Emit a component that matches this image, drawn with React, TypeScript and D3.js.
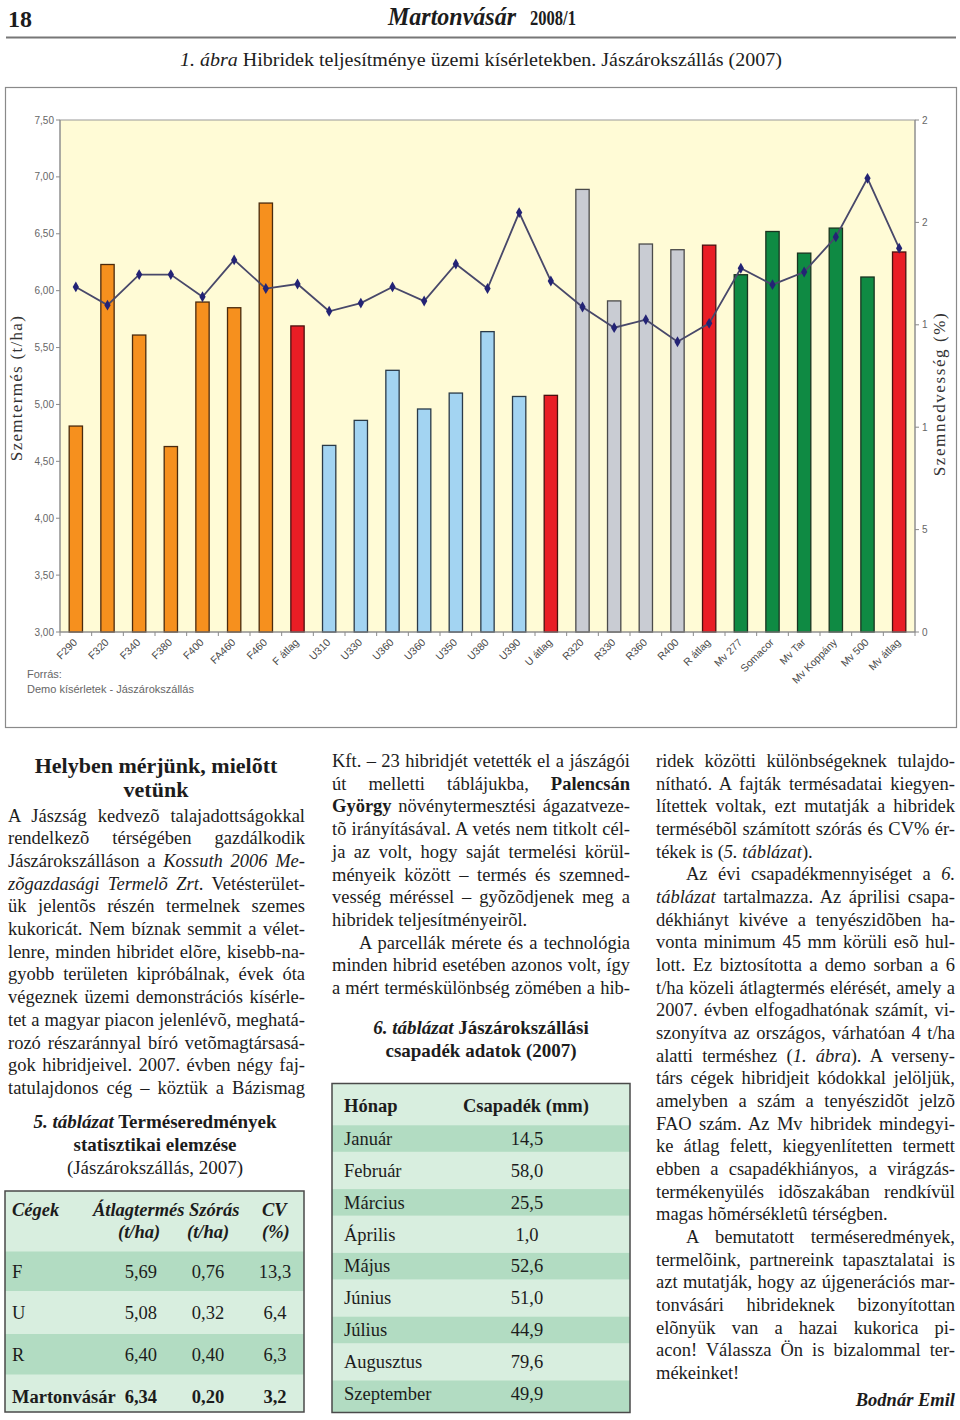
import React, { useRef, useLayoutEffect, useState } from "react";
import * as d3 from "d3";

// ---------- chart data ----------
const categories = ["F290","F320","F340","F380","F400","FA460","F460","F átlag","U310","U330","U360","U360","U350","U380","U390","U átlag","R320","R330","R360","R400","R átlag","Mv 277","Somacor","Mv Tar","Mv Koppány","Mv 500","Mv átlag"];
const groups = ["F","F","F","F","F","F","F","avg","U","U","U","U","U","U","U","avg","R","R","R","R","avg","Mv","Mv","Mv","Mv","Mv","avg"];
const yields = [4.81,6.23,5.61,4.63,5.90,5.85,6.77,5.69,4.64,4.86,5.30,4.96,5.10,5.64,5.07,5.08,6.89,5.91,6.41,6.36,6.40,6.14,6.52,6.33,6.55,6.12,6.34];
const moisture = [16.85,15.96,17.45,17.45,16.37,18.17,16.77,16.99,15.66,16.06,16.85,16.16,17.97,16.77,20.48,17.14,15.87,14.86,15.25,14.17,15.07,17.76,16.96,17.58,19.29,22.15,18.74];
const leftTicks = [3,3.5,4,4.5,5,5.5,6,6.5,7,7.5];
const rightTicks = [0,5,10,15,20,25];
const rightTickLabels = ["0","5","1","1","2","2"];

// ---------- tables ----------
const t5Firms = ["F","U","R","Martonvásár"];
const t5Mean = ["5,69","5,08","6,40","6,34"];
const t5Sd = ["0,76","0,32","0,40","0,20"];
const t5Cv = ["13,3","6,4","6,3","3,2"];
const t6Months = ["Január","Február","Március","Április","Május","Június","Július","Augusztus","Szeptember"];
const t6Rain = ["14,5","58,0","25,5","1,0","52,6","51,0","44,9","79,6","49,9"];

// ---------- text ----------
// "_" toggles italic, "*" toggles bold, ">" indent, "~" = last line (no justify)
const col1 = [
  "A Jászság kedvezõ talajadottságokkal",
  "rendelkezõ térségében gazdálkodik",
  "Jászárokszálláson a _Kossuth 2006 Me-_",
  "_zõgazdasági Termelõ Zrt_. Vetésterület-",
  "ük jelentõs részén termelnek szemes",
  "kukoricát. Nem bíznak semmit a vélet-",
  "lenre, minden hibridet elõre, kisebb-na-",
  "gyobb területen kipróbálnak, évek óta",
  "végeznek üzemi demonstrációs kísérle-",
  "tet a magyar piacon jelenlévõ, meghatá-",
  "rozó részaránnyal bíró vetõmagtársasá-",
  "gok hibridjeivel. 2007. évben négy faj-",
  "tatulajdonos cég – köztük a Bázismag",
];
const col2 = [
  "Kft. – 23 hibridjét vetették el a jászágói",
  "út melletti táblájukba, *Palencsán*",
  "*György* növénytermesztési ágazatveze-",
  "tõ irányításával. A vetés nem titkolt cél-",
  "ja az volt, hogy saját termelési körül-",
  "ményeik között – termés és szemned-",
  "vesség méréssel – gyõzõdjenek meg a",
  "~hibridek teljesítményeirõl.",
  ">A parcellák mérete és a technológia",
  "minden hibrid esetében azonos volt, így",
  "a mért terméskülönbség zömében a hib-",
];
const col3 = [
  "ridek közötti különbségeknek tulajdo-",
  "nítható. A fajták termésadatai kiegyen-",
  "lítettek voltak, ezt mutatják a hibridek",
  "termésébõl számított szórás és CV% ér-",
  "~tékek is (_5. táblázat_).",
  ">Az évi csapadékmennyiséget a _6._",
  "_táblázat_ tartalmazza. Az áprilisi csapa-",
  "dékhiányt kivéve a tenyészidõben ha-",
  "vonta minimum 45 mm körüli esõ hul-",
  "lott. Ez biztosította a demo sorban a 6",
  "t/ha közeli átlagtermés elérését, amely a",
  "2007. évben elfogadhatónak számít, vi-",
  "szonyítva az országos, várhatóan 4 t/ha",
  "alatti terméshez (_1. ábra_). A verseny-",
  "társ cégek hibridjeit kódokkal jelöljük,",
  "amelyben a szám a tenyészidõt jelzõ",
  "FAO szám. Az Mv hibridek mindegyi-",
  "ke átlag felett, kiegyenlítetten termett",
  "ebben a csapadékhiányos, a virágzás-",
  "termékenyülés idõszakában rendkívül",
  "~magas hõmérsékletû térségben.",
  ">A bemutatott terméseredmények,",
  "termelõink, partnereink tapasztalatai is",
  "azt mutatják, hogy az újgenerációs mar-",
  "tonvásári hibrideknek bizonyítottan",
  "elõnyük van a hazai kukorica pi-",
  "acon! Válassza Ön is bizalommal ter-",
  "~mékeinket!",
];

const SERIF = "'Liberation Serif', 'Times New Roman', 'DejaVu Serif', serif";
const SANS = "'Liberation Sans', Arial, sans-serif";
const INK = "#1c1c1c";

function parseSegs(s: string) {
  const segs: { t: string; i: boolean; b: boolean }[] = [];
  let it = false, bd = false, cur = "";
  for (const ch of s) {
    if (ch === "_" || ch === "*") {
      if (cur) segs.push({ t: cur, i: it, b: bd });
      cur = "";
      if (ch === "_") it = !it; else bd = !bd;
    } else cur += ch;
  }
  if (cur) segs.push({ t: cur, i: it, b: bd });
  return segs;
}

function TextLine(props: { x: number; y: number; width: number; text: string; justify: boolean; size: number }) {
  const { x, y, width, text, justify, size } = props;
  const ref = useRef<SVGTextElement>(null);
  const [ws, setWs] = useState(0);
  useLayoutEffect(() => {
    if (!justify || !ref.current) return;
    const nat = ref.current.getComputedTextLength();
    const plain = text.replace(/[_*]/g, "");
    const n = (plain.match(/ /g) || []).length;
    if (n > 0) setWs((width - nat) / n);
  }, [text, width, justify]);
  const segs = parseSegs(text);
  return (
    <text ref={ref} x={x} y={y} fontSize={size} fontFamily={SERIF} fill={INK} style={{ wordSpacing: ws + "px" }}>
      {segs.map((s, k) => (
        <tspan key={k} fontStyle={s.i ? "italic" : "normal"} fontWeight={s.b ? "bold" : "normal"}>{s.t}</tspan>
      ))}
    </text>
  );
}

function Column(props: { lines: string[]; x: number; width: number; y0: number; pitch: number; indent: number }) {
  const { lines, x, width, y0, pitch, indent } = props;
  return (
    <g>
      {lines.map((raw, i) => {
        let t = raw;
        let ind = 0;
        let just = true;
        if (t.startsWith(">")) { ind = indent; t = t.slice(1); }
        if (t.startsWith("~")) { just = false; t = t.slice(1); }
        return <TextLine key={i} x={x + ind} y={y0 + i * pitch} width={width - ind} text={t} justify={just} size={18.5} />;
      })}
    </g>
  );
}

function Chart() {
  const n = categories.length;
  const x = d3.scaleBand<number>().domain(d3.range(n)).range([60, 915]).paddingInner(0.58).paddingOuter(0.29);
  const yL = d3.scaleLinear().domain([3, 7.5]).range([632, 120]);
  const yR = d3.scaleLinear().domain([0, 25]).range([632, 120]);
  const bw = x.bandwidth();
  const cx = (i: number) => (x(i) as number) + bw / 2;
  const fills: Record<string, string> = { F: "#f6901e", U: "#a3d4f2", R: "#c9ccd3", Mv: "#0f8a43", avg: "#e91d25" };
  const strokes: Record<string, string> = { F: "#4a2a0e", U: "#2a3a48", R: "#4a4a4a", Mv: "#1a3320", avg: "#4a1010" };
  const line = d3.line<number>().x((_, i) => cx(i)).y((d) => yR(d));
  const diamond = d3.symbol().type(d3.symbolDiamond).size(34)() as string;
  const fmt = (v: number) => d3.format(".2f")(v).replace(".", ",");
  const step = x.step();
  const [r0, r1] = yL.range();
  return (
    <g>
      <rect x={5.5} y={87.5} width={951} height={640} fill="#ffffff" stroke="#8a8a8a" strokeWidth={1.2} />
      <rect x={60} y={120} width={855} height={512} fill="#fffbd6" stroke="#9a9a9a" strokeWidth={1} />
      {/* left axis */}
      <line x1={60} x2={60} y1={r1} y2={r0} stroke="#8a8a8a" />
      {leftTicks.map((t) => (
        <g key={t}>
          <line x1={56} x2={60} y1={yL(t)} y2={yL(t)} stroke="#8a8a8a" />
          <text x={54} y={yL(t) + 3.5} fontSize={10} fontFamily={SANS} fill="#666" textAnchor="end">{fmt(t)}</text>
        </g>
      ))}
      {/* right axis */}
      <line x1={915} x2={915} y1={r1} y2={r0} stroke="#8a8a8a" />
      {rightTicks.map((t, i) => (
        <g key={t}>
          <line x1={915} x2={919} y1={yR(t)} y2={yR(t)} stroke="#8a8a8a" />
          <text x={922} y={yR(t) + 3.5} fontSize={10} fontFamily={SANS} fill="#666">{rightTickLabels[i]}</text>
        </g>
      ))}
      {/* bars */}
      {yields.map((v, i) => (
        <rect key={i} x={x(i)} y={yL(v)} width={bw} height={yL(3) - yL(v)} fill={fills[groups[i]]} stroke={strokes[groups[i]]} strokeWidth={1.3} />
      ))}
      {/* bottom axis */}
      <line x1={60} x2={915} y1={632} y2={632} stroke="#8a8a8a" />
      {d3.range(n + 1).map((i) => (
        <line key={i} x1={60 + i * step} x2={60 + i * step} y1={632} y2={636} stroke="#8a8a8a" />
      ))}
      {/* moisture line */}
      <path d={line(moisture) as string} fill="none" stroke="#48486a" strokeWidth={1.8} />
      {moisture.map((v, i) => (
        <path key={i} d={diamond} transform={`translate(${cx(i)},${yR(v)})`} fill="#232375" />
      ))}
      {/* category labels */}
      {categories.map((c, i) => (
        <text key={i} transform={`translate(${cx(i) + 2},${643}) rotate(-45)`} fontSize={10.5} fontFamily={SANS} fill="#4a4a4a" textAnchor="end">{c}</text>
      ))}
      {/* axis titles */}
      <text transform="translate(22,388) rotate(-90)" fontSize={17} fontFamily={SERIF} fill="#333" textAnchor="middle" letterSpacing={1.3}>Szemtermés (t/ha)</text>
      <text transform="translate(945,394) rotate(-90)" fontSize={17} fontFamily={SERIF} fill="#333" textAnchor="middle" letterSpacing={1.6}>Szemnedvesség (%)</text>
      {/* source */}
      <text x={27} y={678} fontSize={11} fontFamily={SANS} fill="#666">Forrás:</text>
      <text x={27} y={693} fontSize={11} fontFamily={SANS} fill="#666">Demo kísérletek - Jászárokszállás</text>
    </g>
  );
}

function Table5() {
  const rowTop = [1251.5, 1291, 1334, 1374.5];
  const rowBot = [1291, 1334, 1374.5, 1412];
  const base = [1278, 1319, 1361, 1403];
  return (
    <g fontFamily={SERIF} fontSize={18.5} fill={INK}>
      <rect x={5} y={1191} width={299} height={221} fill="#d8eedf" />
      {rowTop.map((t, i) => (i % 2 === 0 ? <rect key={i} x={5} y={t} width={299} height={rowBot[i] - t} fill="#b2dcc2" /> : null))}
      <rect x={5} y={1191} width={299} height={221} fill="none" stroke="#4a4a4a" strokeWidth={1.5} />
      <g fontStyle="italic" fontWeight="bold">
        <text x={12} y={1216}>Cégek</text>
        <text x={93} y={1216}>Átlagtermés</text>
        <text x={189} y={1216}>Szórás</text>
        <text x={262} y={1216}>CV</text>
        <text x={118} y={1238}>(t/ha)</text>
        <text x={187} y={1238}>(t/ha)</text>
        <text x={262} y={1238}>(%)</text>
      </g>
      {t5Firms.map((f, i) => {
        const bold = i === t5Firms.length - 1 ? "bold" : "normal";
        return (
          <g key={i} fontWeight={bold}>
            <text x={12} y={base[i]}>{f}</text>
            <text x={157} y={base[i]} textAnchor="end">{t5Mean[i]}</text>
            <text x={208} y={base[i]} textAnchor="middle">{t5Sd[i]}</text>
            <text x={275} y={base[i]} textAnchor="middle">{t5Cv[i]}</text>
          </g>
        );
      })}
    </g>
  );
}

function Table6() {
  const y0 = 1138.3;
  const pitch = 31.9;
  return (
    <g fontFamily={SERIF} fontSize={18.5} fill={INK}>
      <rect x={332} y={1083.5} width={298} height={329} fill="#d8eedf" />
      {t6Months.map((m, i) =>
        i % 2 === 0 ? (
          <rect key={i} x={332} y={y0 + i * pitch - 13} width={298} height={i === t6Months.length - 1 ? 1412.5 - (y0 + i * pitch - 13) : 26.5} fill="#b2dcc2" />
        ) : null
      )}
      <rect x={332} y={1083.5} width={298} height={329} fill="none" stroke="#4a4a4a" strokeWidth={1.5} />
      <text x={344} y={1112} fontWeight="bold">Hónap</text>
      <text x={463} y={1112} fontWeight="bold">Csapadék (mm)</text>
      {t6Months.map((m, i) => (
        <g key={i}>
          <text x={344} y={y0 + i * pitch + 6.5}>{m}</text>
          <text x={527} y={y0 + i * pitch + 6.5} textAnchor="middle">{t6Rain[i]}</text>
        </g>
      ))}
    </g>
  );
}

export default function App() {
  return (
    <svg width={960} height={1420} viewBox="0 0 960 1420" style={{ position: "absolute", left: 0, top: 0, background: "#fff" }}>
      <rect x={0} y={0} width={960} height={1420} fill="#fff" />
      {/* page header */}
      <text x={8} y={27} fontFamily={SERIF} fontWeight="bold" fontSize={24} fill={INK}>18</text>
      <text x={388} y={25} fontFamily={SERIF} fontStyle="italic" fontWeight="bold" fontSize={25} fill={INK} textLength={128} lengthAdjust="spacingAndGlyphs">
        Martonvásár
      </text>
      <text x={530} y={25} fontFamily={SERIF} fontWeight="bold" fontSize={21} fill={INK} textLength={46} lengthAdjust="spacingAndGlyphs">2008/1</text>
      <line x1={6} x2={956} y1={37.5} y2={37.5} stroke="#777" strokeWidth={2.2} />
      <text x={180} y={66} fontFamily={SERIF} fontSize={19} fill={INK} textLength={602} lengthAdjust="spacingAndGlyphs">
        <tspan fontStyle="italic">1. ábra</tspan> Hibridek teljesítménye üzemi kísérletekben. Jászárokszállás (2007)
      </text>

      <Chart />

      {/* column 1 */}
      <g fontFamily={SERIF} fontWeight="bold" fontSize={22} fill={INK} textAnchor="middle">
        <text x={156} y={773}>Helyben mérjünk, mielõtt</text>
        <text x={156} y={797}>vetünk</text>
      </g>
      <Column lines={col1} x={8} width={297} y0={821.5} pitch={22.7} indent={28} />
      <g fontFamily={SERIF} fontSize={19} fill={INK} textAnchor="middle">
        <text x={155} y={1128} fontWeight="bold"><tspan fontStyle="italic">5. táblázat</tspan> Terméseredmények</text>
        <text x={155} y={1151} fontWeight="bold">statisztikai elemzése</text>
        <text x={155} y={1174}>(Jászárokszállás, 2007)</text>
      </g>
      <Table5 />

      {/* column 2 */}
      <Column lines={col2} x={332} width={298} y0={767} pitch={22.7} indent={27} />
      <g fontFamily={SERIF} fontSize={19} fill={INK} textAnchor="middle" fontWeight="bold">
        <text x={481} y={1034}><tspan fontStyle="italic">6. táblázat</tspan> Jászárokszállási</text>
        <text x={481} y={1057}>csapadék adatok (2007)</text>
      </g>
      <Table6 />

      {/* column 3 */}
      <Column lines={col3} x={656} width={299} y0={767} pitch={22.67} indent={30} />
      <text x={955} y={1406} fontFamily={SERIF} fontSize={18.5} fontWeight="bold" fontStyle="italic" fill={INK} textAnchor="end">Bodnár Emil</text>
    </svg>
  );
}
